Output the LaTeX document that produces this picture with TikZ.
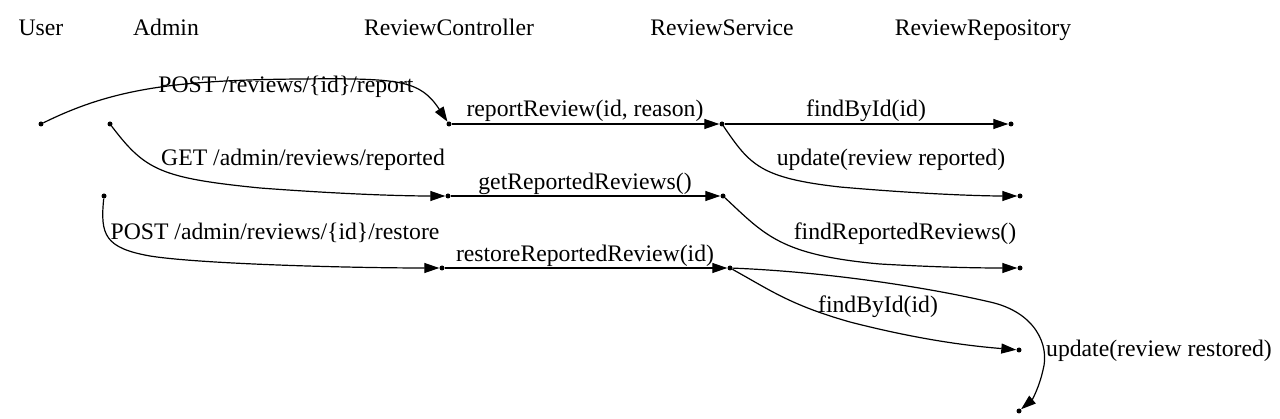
\documentclass[tikz,border=0pt]{standalone}
\usepackage{fontspec}
\setmainfont{Liberation Serif}
\usetikzlibrary{arrows.meta}
\begin{document}
\begin{tikzpicture}[x=1pt,y=-1pt,
  dot/.style={circle,fill=black,inner sep=0pt,minimum size=5pt},
  lbl/.style={inner sep=0pt,anchor=base,font=\fontsize{23.7}{28}\selectfont},
  msg/.style={line width=1.2pt,-{Triangle[length=15pt,width=10pt]}}]
\useasboundingbox (0,0) rectangle (1280,419);
% headers
\node[lbl] (hUser) at (41,36) {User};
\node[lbl] (hAdmin) at (166,36) {Admin};
\node[lbl] (hCtrl) at (449,36) {ReviewController};
\node[lbl] (hServ) at (722,36) {ReviewService};
\node[lbl] (hRepo) at (983,36) {ReviewRepository};
% dots
\node[dot] (u1) at (41,124) {};
\node[dot] (a1) at (110,124) {};
\node[dot] (a2) at (104,196) {};
\node[dot] (c1) at (449,124) {};
\node[dot] (c2) at (448,196) {};
\node[dot] (c3) at (442,268) {};
\node[dot] (s1) at (722,124) {};
\node[dot] (s2) at (723,196) {};
\node[dot] (s3) at (730,268) {};
\node[dot] (r1) at (1011,124) {};
\node[dot] (r2) at (1020,196) {};
\node[dot] (r3) at (1020,268) {};
\node[dot] (r4) at (1019,350) {};
\node[dot] (r5) at (1019,411) {};
% edges
\draw[msg] (u1) .. controls (110,90) and (170,80) .. (300,79) .. controls (400,78) and (420,80) .. (c1);
\draw[msg] (c1) -- (s1);
\draw[msg] (s1) -- (r1);
\draw[msg] (s1) .. controls (750,165) and (760,178) .. (840,187) .. controls (920,194) and (980,196) .. (r2);
\draw[msg] (a1) .. controls (145,170) and (160,178) .. (260,188) .. controls (340,194) and (400,196) .. (c2);
\draw[msg] (c2) -- (s2);
\draw[msg] (s2) .. controls (765,235) and (780,255) .. (880,264) .. controls (950,268) and (990,268) .. (r3);
\draw[msg] (a2) .. controls (100,235) and (105,248) .. (150,256) .. controls (200,264) and (350,268) .. (c3);
\draw[msg] (c3) -- (s3);
\draw[msg] (s3) .. controls (770,290) and (790,305) .. (850,322) .. controls (920,340) and (970,346) .. (r4);
\draw[msg] (s3) .. controls (830,272) and (930,288) .. (990,302) .. controls (1035,312) and (1050,345) .. (1043,370) .. controls (1039,388) and (1032,400) .. (r5);
% labels
\node[lbl] (l1) at (286,93) {POST /reviews/\{id\}/report};
\node[lbl] (l2) at (585,117) {reportReview(id, reason)};
\node[lbl] (l3) at (866,117) {findById(id)};
\node[lbl] (l4) at (891,166) {update(review reported)};
\node[lbl] (l5) at (303,166) {GET /admin/reviews/reported};
\node[lbl] (l6) at (585,190) {getReportedReviews()};
\node[lbl] (l7) at (905,240) {findReportedReviews()};
\node[lbl] (l8) at (275,240) {POST /admin/reviews/\{id\}/restore};
\node[lbl] (l9) at (585,262) {restoreReportedReview(id)};
\node[lbl] (l10) at (878,313) {findById(id)};
\node[lbl] (l11) at (1159,357) {update(review restored)};
\end{tikzpicture}
\end{document}
